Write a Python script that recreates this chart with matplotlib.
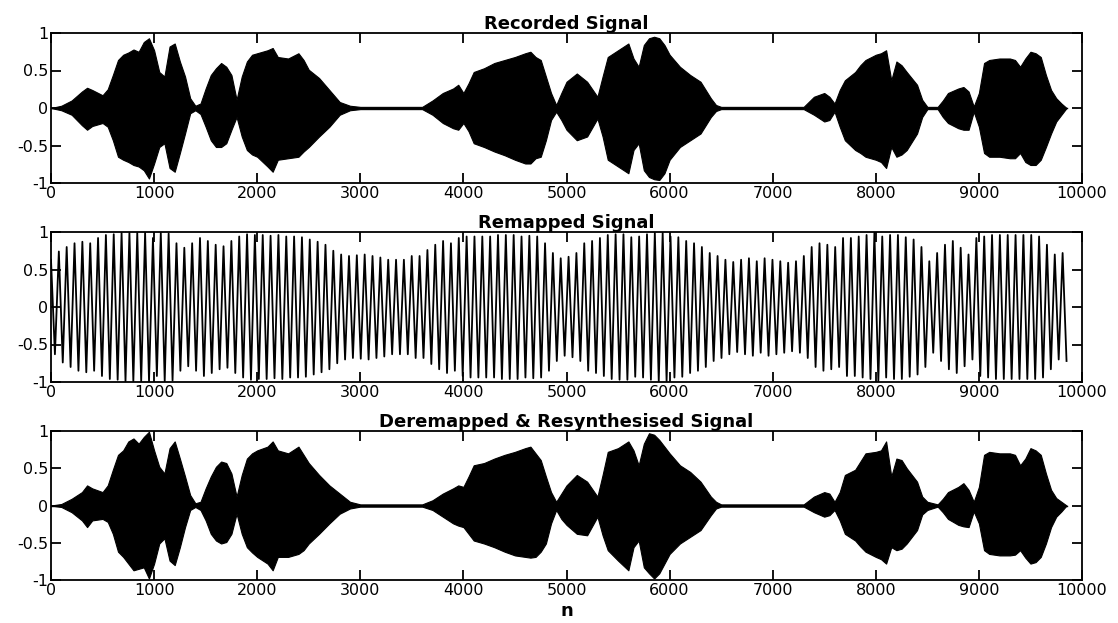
import numpy as np
import matplotlib
matplotlib.use("Agg")
import matplotlib.pyplot as plt

plt.rcParams['font.family'] = ['DejaVu Sans']

# ---------------- data ----------------
titles = ["Recorded Signal", "Remapped Signal", "Deremapped & Resynthesised Signal"]
x_label = "n"
x_ticks = list(range(0, 10001, 1000))
y_ticks = [-1, -0.5, 0, 0.5, 1]
y_tick_labels = ["-1", "-0.5", "0", "0.5", "1"]

# envelope sample positions (n)
env_n = [0, 100, 200, 300, 350, 400, 500, 550, 600, 650,
         700, 750, 800, 850, 900, 950, 1000, 1050, 1100, 1150,
         1200, 1250, 1300, 1350, 1400, 1450, 1500, 1550, 1600, 1650,
         1700, 1750, 1800, 1850, 1900, 1950, 2000, 2100, 2150, 2200,
         2300, 2400, 2450, 2500, 2600, 2700, 2800, 2900, 3000, 3200,
         3400, 3600, 3700, 3800, 3900, 3950, 4000, 4050, 4100, 4200,
         4300, 4400, 4500, 4600, 4650, 4700, 4750, 4800, 4850, 4900,
         4950, 5000, 5100, 5200, 5300, 5350, 5400, 5500, 5600, 5650,
         5700, 5750, 5800, 5850, 5900, 5950, 6000, 6100, 6200, 6300,
         6400, 6450, 6500, 6700, 6900, 7100, 7300, 7400, 7500, 7550,
         7600, 7650, 7700, 7800, 7850, 7900, 8000, 8050, 8100, 8150,
         8200, 8250, 8300, 8400, 8450, 8500, 8600, 8650, 8700, 8800,
         8850, 8900, 8950, 9000, 9050, 9100, 9200, 9300, 9350, 9400,
         9450, 9500, 9550, 9600, 9650, 9700, 9750, 9800, 9850]

# recorded signal: upper / lower envelope
rec_up = [0.00, 0.03, 0.10, 0.22, 0.27, 0.24, 0.17, 0.25, 0.44, 0.64,
          0.71, 0.74, 0.78, 0.75, 0.88, 0.93, 0.77, 0.48, 0.42, 0.82,
          0.86, 0.62, 0.42, 0.13, 0.03, 0.06, 0.26, 0.44, 0.53, 0.60,
          0.55, 0.44, 0.11, 0.42, 0.62, 0.71, 0.73, 0.77, 0.80, 0.68,
          0.66, 0.73, 0.64, 0.51, 0.40, 0.24, 0.08, 0.03, 0.015, 0.015,
          0.015, 0.015, 0.10, 0.20, 0.26, 0.31, 0.20, 0.33, 0.48, 0.53,
          0.60, 0.64, 0.68, 0.73, 0.75, 0.68, 0.64, 0.42, 0.20, 0.04,
          0.20, 0.35, 0.46, 0.35, 0.15, 0.42, 0.68, 0.77, 0.86, 0.66,
          0.55, 0.84, 0.93, 0.95, 0.93, 0.84, 0.71, 0.55, 0.44, 0.35,
          0.13, 0.04, 0.015, 0.015, 0.015, 0.015, 0.015, 0.15, 0.20, 0.15,
          0.06, 0.24, 0.37, 0.48, 0.57, 0.64, 0.71, 0.73, 0.77, 0.37,
          0.62, 0.57, 0.48, 0.31, 0.11, 0.015, 0.015, 0.10, 0.20, 0.26,
          0.28, 0.22, 0.02, 0.20, 0.60, 0.64, 0.66, 0.66, 0.64, 0.55,
          0.66, 0.75, 0.73, 0.68, 0.44, 0.24, 0.13, 0.06, 0.00]
rec_lo = [0.00, -0.03, -0.09, -0.23, -0.29, -0.24, -0.20, -0.25, -0.43, -0.65,
          -0.69, -0.72, -0.76, -0.78, -0.83, -0.94, -0.74, -0.52, -0.47, -0.80,
          -0.85, -0.60, -0.34, -0.07, -0.03, -0.08, -0.25, -0.43, -0.52, -0.52,
          -0.47, -0.29, -0.12, -0.38, -0.56, -0.62, -0.65, -0.78, -0.85, -0.69,
          -0.67, -0.65, -0.58, -0.52, -0.38, -0.25, -0.09, -0.03, -0.015, -0.015,
          -0.015, -0.015, -0.09, -0.20, -0.27, -0.29, -0.20, -0.31, -0.47, -0.52,
          -0.58, -0.63, -0.69, -0.74, -0.74, -0.67, -0.65, -0.43, -0.16, -0.05,
          -0.16, -0.29, -0.43, -0.38, -0.14, -0.38, -0.69, -0.78, -0.87, -0.56,
          -0.47, -0.83, -0.92, -0.95, -0.96, -0.87, -0.69, -0.52, -0.43, -0.34,
          -0.12, -0.04, -0.015, -0.015, -0.015, -0.015, -0.015, -0.09, -0.18, -0.16,
          -0.05, -0.25, -0.43, -0.56, -0.60, -0.65, -0.69, -0.72, -0.80, -0.52,
          -0.65, -0.62, -0.56, -0.34, -0.12, -0.015, -0.015, -0.12, -0.20, -0.27,
          -0.29, -0.29, -0.05, -0.25, -0.60, -0.65, -0.65, -0.67, -0.67, -0.60,
          -0.72, -0.76, -0.76, -0.69, -0.52, -0.34, -0.18, -0.09, 0.00]

# deremapped & resynthesised signal: upper / lower envelope
syn_up = [0.00, 0.02, 0.09, 0.18, 0.27, 0.23, 0.18, 0.27, 0.48, 0.68,
          0.74, 0.86, 0.90, 0.83, 0.92, 0.99, 0.74, 0.52, 0.43, 0.77,
          0.86, 0.63, 0.39, 0.14, 0.03, 0.05, 0.23, 0.39, 0.52, 0.59,
          0.57, 0.43, 0.12, 0.41, 0.63, 0.70, 0.74, 0.79, 0.86, 0.74,
          0.70, 0.79, 0.68, 0.57, 0.41, 0.27, 0.16, 0.05, 0.015, 0.015,
          0.015, 0.015, 0.07, 0.16, 0.23, 0.27, 0.25, 0.39, 0.54, 0.57,
          0.63, 0.68, 0.72, 0.77, 0.79, 0.70, 0.61, 0.39, 0.18, 0.05,
          0.16, 0.27, 0.41, 0.32, 0.12, 0.41, 0.72, 0.77, 0.86, 0.74,
          0.54, 0.83, 0.97, 0.95, 0.88, 0.79, 0.70, 0.54, 0.45, 0.32,
          0.12, 0.05, 0.015, 0.015, 0.015, 0.015, 0.015, 0.12, 0.18, 0.16,
          0.05, 0.18, 0.41, 0.48, 0.59, 0.70, 0.72, 0.74, 0.86, 0.39,
          0.63, 0.61, 0.50, 0.32, 0.12, 0.05, 0.015, 0.09, 0.18, 0.25,
          0.30, 0.21, 0.05, 0.25, 0.68, 0.72, 0.70, 0.70, 0.68, 0.54,
          0.63, 0.77, 0.74, 0.68, 0.43, 0.21, 0.10, 0.05, 0.00]
syn_lo = [0.00, -0.02, -0.09, -0.20, -0.29, -0.20, -0.18, -0.22, -0.38, -0.62,
          -0.69, -0.78, -0.87, -0.85, -0.83, -0.98, -0.78, -0.51, -0.44, -0.74,
          -0.80, -0.56, -0.29, -0.06, -0.02, -0.06, -0.20, -0.38, -0.47, -0.51,
          -0.49, -0.38, -0.11, -0.38, -0.56, -0.63, -0.69, -0.78, -0.87, -0.69,
          -0.69, -0.65, -0.60, -0.51, -0.38, -0.24, -0.11, -0.04, -0.015, -0.015,
          -0.015, -0.015, -0.06, -0.15, -0.24, -0.27, -0.29, -0.38, -0.47, -0.51,
          -0.56, -0.62, -0.67, -0.69, -0.70, -0.69, -0.62, -0.51, -0.24, -0.06,
          -0.18, -0.26, -0.38, -0.40, -0.15, -0.40, -0.60, -0.74, -0.87, -0.56,
          -0.47, -0.83, -0.91, -0.98, -0.91, -0.78, -0.65, -0.51, -0.42, -0.33,
          -0.13, -0.04, -0.015, -0.015, -0.015, -0.015, -0.015, -0.09, -0.15, -0.13,
          -0.06, -0.20, -0.38, -0.47, -0.55, -0.62, -0.69, -0.72, -0.78, -0.56,
          -0.60, -0.58, -0.51, -0.33, -0.12, -0.06, -0.015, -0.09, -0.18, -0.26,
          -0.28, -0.29, -0.08, -0.24, -0.60, -0.65, -0.67, -0.67, -0.66, -0.60,
          -0.70, -0.78, -0.76, -0.69, -0.51, -0.29, -0.15, -0.08, 0.00]

# remapped signal: peak magnitude of each oscillation cycle
remap_peaks = [0.63, 0.74, 0.80, 0.85, 0.87, 0.85, 0.92, 0.96, 0.97, 0.99,
               0.99, 0.99, 0.99, 0.92, 0.99, 0.98, 0.85, 0.79, 0.85, 0.92,
               0.88, 0.83, 0.81, 0.88, 0.94, 0.97, 0.96, 0.96, 0.95, 0.96,
               0.94, 0.94, 0.93, 0.90, 0.87, 0.83, 0.75, 0.70, 0.68, 0.69,
               0.70, 0.68, 0.66,
               0.63, 0.63, 0.63, 0.68, 0.68, 0.76, 0.83, 0.88, 0.85, 0.92,
               0.94, 0.94, 0.94, 0.94, 0.96, 0.96, 0.96, 0.94, 0.95, 0.94,
               0.85, 0.72, 0.65, 0.67, 0.72, 0.85, 0.88, 0.92, 0.96, 0.97,
               0.97, 0.93, 0.94, 0.97, 0.99, 0.99, 0.94, 0.93, 0.88, 0.85,
               0.80, 0.72, 0.68, 0.63, 0.60,
               0.63, 0.65, 0.61, 0.65, 0.63, 0.61, 0.59, 0.61, 0.68, 0.80,
               0.85, 0.83, 0.80, 0.92, 0.92, 0.94, 0.96, 0.99, 0.94, 0.96,
               0.96, 0.93, 0.90, 0.80, 0.61, 0.72, 0.83, 0.88, 0.79, 0.70,
               0.92, 0.94, 0.96, 0.96, 0.96, 0.96, 0.96, 0.96, 0.94, 0.83,
               0.70, 0.72]
signal_end = 9850

# ---------------- figure ----------------
W, H = 1118, 623
fig = plt.figure(figsize=(W / 100, H / 100), dpi=100)

left = 51 / W
width = (1082 - 51) / W
boxes = [(33, 183), (232, 382), (431, 580)]
axes = []
for top, bot in boxes:
    ax = fig.add_axes([left, 1 - bot / H, width, (bot - top) / H])
    axes.append(ax)

env_n_arr = np.array(env_n)

# panel 1: recorded
ax = axes[0]
ax.fill_between(env_n_arr, rec_lo, rec_up, color='black', linewidth=0.8, edgecolor='black')
ax.plot([env_n[0], env_n[-1]], [0, 0], color='black', lw=1.0)

# panel 2: remapped
ax = axes[1]
peaks = np.array(remap_peaks)
vals = np.empty(2 * len(peaks))
vals[0::2] = peaks
vals[1::2] = -peaks
pos = np.linspace(0, signal_end, len(vals))
ax.plot(pos, vals, color='black', lw=1.3)

# panel 3: resynthesised
ax = axes[2]
ax.fill_between(env_n_arr, syn_lo, syn_up, color='black', linewidth=0.8, edgecolor='black')
ax.plot([env_n[0], env_n[-1]], [0, 0], color='black', lw=1.0)

for ax, t in zip(axes, titles):
    ax.set_xlim(0, 10000)
    ax.set_ylim(-1, 1)
    ax.set_xticks(x_ticks)
    ax.set_xticklabels([str(v) for v in x_ticks])
    ax.set_yticks(y_ticks)
    ax.set_yticklabels(y_tick_labels)
    ax.tick_params(direction='in', top=True, right=True, length=7, width=1.3,
                   labelsize=11.5, pad=2, colors='black')
    for s in ax.spines.values():
        s.set_linewidth(1.3)
    ax.set_title(t, fontweight='bold', fontsize=13, pad=3)

axes[2].set_xlabel(x_label, fontweight='bold', fontsize=13, labelpad=3)

fig.savefig("out.png", dpi=100)
